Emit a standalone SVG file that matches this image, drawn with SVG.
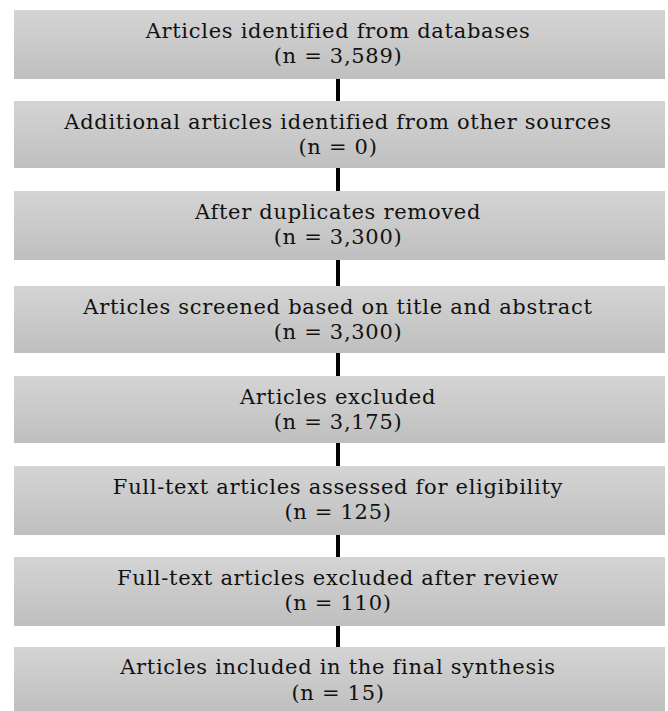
<svg xmlns="http://www.w3.org/2000/svg" width="668" height="711" viewBox="0 0 668 711">
<defs>
<linearGradient id="g" x1="0" y1="0" x2="0" y2="1">
<stop offset="0" stop-color="#d4d4d4"/>
<stop offset="1" stop-color="#bfbfbf"/>
</linearGradient>
<style>
.box{fill:url(#g);}
.t{font-family:"DejaVu Serif","Liberation Serif",serif;font-size:21px;letter-spacing:0.7px;fill:#111;text-anchor:middle;}
.c{stroke:#000;stroke-width:4;fill:none;}
</style>
</defs>
<rect width="668" height="711" fill="#fff"/>
<g id="connectors">
<line class="c" x1="338" y1="79" x2="338" y2="101"/>
<line class="c" x1="338" y1="168" x2="338" y2="191"/>
<line class="c" x1="338" y1="260" x2="338" y2="286"/>
<line class="c" x1="338" y1="353" x2="338" y2="376"/>
<line class="c" x1="338" y1="443" x2="338" y2="466"/>
<line class="c" x1="338" y1="535" x2="338" y2="557"/>
<line class="c" x1="338" y1="626" x2="338" y2="647"/>
</g>
<g id="n1"><rect class="box" x="14" y="10" width="651" height="69"/>
<text class="t" x="338" y="38">Articles identified from databases</text>
<text class="t" x="338" y="63">(n = 3,589)</text></g>
<g id="n2"><rect class="box" x="14" y="101" width="651" height="67"/>
<text class="t" x="338" y="129">Additional articles identified from other sources</text>
<text class="t" x="338" y="154">(n = 0)</text></g>
<g id="n3"><rect class="box" x="14" y="191" width="651" height="69"/>
<text class="t" x="338" y="219">After duplicates removed</text>
<text class="t" x="338" y="244">(n = 3,300)</text></g>
<g id="n4"><rect class="box" x="14" y="286" width="651" height="67"/>
<text class="t" x="338" y="314">Articles screened based on title and abstract</text>
<text class="t" x="338" y="339">(n = 3,300)</text></g>
<g id="n5"><rect class="box" x="14" y="376" width="651" height="67"/>
<text class="t" x="338" y="404">Articles excluded</text>
<text class="t" x="338" y="429">(n = 3,175)</text></g>
<g id="n6"><rect class="box" x="14" y="466" width="651" height="69"/>
<text class="t" x="338" y="494">Full-text articles assessed for eligibility</text>
<text class="t" x="338" y="519">(n = 125)</text></g>
<g id="n7"><rect class="box" x="14" y="557" width="651" height="69"/>
<text class="t" x="338" y="585">Full-text articles excluded after review</text>
<text class="t" x="338" y="610">(n = 110)</text></g>
<g id="n8"><rect class="box" x="14" y="647" width="651" height="64"/>
<text class="t" x="338" y="674">Articles included in the final synthesis</text>
<text class="t" x="338" y="700">(n = 15)</text></g>
</svg>
